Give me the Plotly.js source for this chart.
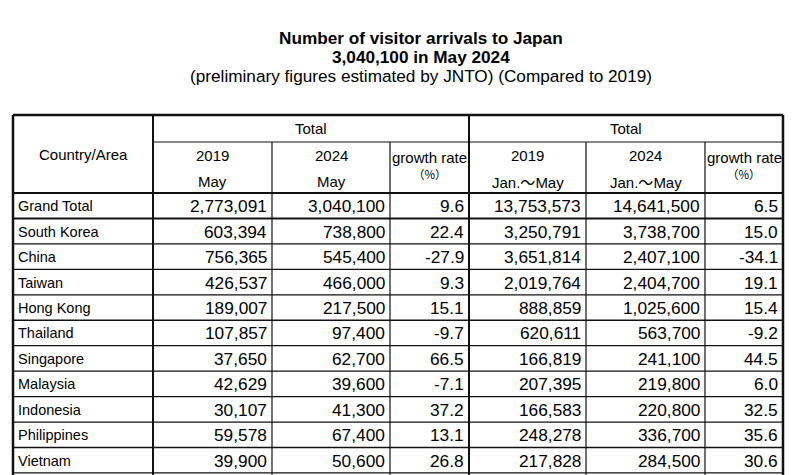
<!DOCTYPE html>
<html>
<head>
<meta charset="utf-8">
<script src="https://cdn.plot.ly/plotly-3.0.1.min.js"></script>
<style>
  body { margin: 0; background: #fff; }
  #chart { width: 800px; height: 475px; }
</style>
</head>
<body>
<div id="chart"></div>
<script>
// ---- data ----
const countries = ["Grand Total", "South Korea", "China", "Taiwan", "Hong Kong", "Thailand",
                   "Singapore", "Malaysia", "Indonesia", "Philippines", "Vietnam"];
const may2019 = [2773091, 603394, 756365, 426537, 189007, 107857, 37650, 42629, 30107, 59578, 39900];
const may2024 = [3040100, 738800, 545400, 466000, 217500, 97400, 62700, 39600, 41300, 67400, 50600];
const mayGrowth = [9.6, 22.4, -27.9, 9.3, 15.1, -9.7, 66.5, -7.1, 37.2, 13.1, 26.8];
const ytd2019 = [13753573, 3250791, 3651814, 2019764, 888859, 620611, 166819, 207395, 166583, 248278, 217828];
const ytd2024 = [14641500, 3738700, 2407100, 2404700, 1025600, 563700, 241100, 219800, 220800, 336700, 284500];
const ytdGrowth = [6.5, 15.0, -34.1, 19.1, 15.4, -9.2, 44.5, 6.0, 32.5, 35.6, 30.6];

const titleLines = ["<b>Number of visitor arrivals to Japan</b>",
                    "<b>3,040,100 in May 2024</b>",
                    "(preliminary figures estimated by JNTO) (Compared to 2019)"];
const groupLabel = "Total";
const yearLabels = ["2019", "2024"];
const mayLabel = "May";
const cjk = "Noto Sans CJK JP";
const ytdLabel = "Jan.<span style=\"font-family:" + cjk + "\">\uFF5E</span>May";
const pctLabel = "\uFF08%\uFF09";

// ---- table geometry (pixel-like axis units) ----
const colX = [13, 153, 272, 390, 469, 586, 705, 783];
const tableTop = 115;
const groupLine = 142;
const headTop = 193;
const rowH = 25.45;

const font = "Liberation Sans, Arial, sans-serif";
const shapes = [];
const ann = [];

function line(x0, y0, x1, y1, w) {
  shapes.push({type: "line", xref: "x", yref: "y", x0: x0, y0: y0, x1: x1, y1: y1,
               line: {color: "#111", width: w}});
}
function txt(x, y, s, size, anchor, fam) {
  ann.push({xref: "x", yref: "y", x: x, y: y, text: s, showarrow: false,
            xanchor: anchor || "center", yanchor: "middle",
            font: {family: fam || font, size: size, color: "#000"}});
}

// title, one annotation per line
titleLines.forEach((s, i) => txt(421, 38 + i * 19, s, 17.2));

const bottom = 475;
// vertical lines
line(colX[0], tableTop, colX[0], bottom, 2.5);
line(colX[1], tableTop, colX[1], bottom, 2);
line(colX[4], tableTop, colX[4], bottom, 2);
line(colX[7], tableTop, colX[7], bottom, 2.5);
[2, 3, 5, 6].forEach(i => line(colX[i], groupLine, colX[i], bottom, 1.2));

// horizontal lines
line(colX[0], tableTop, colX[7], tableTop, 2.5);
line(colX[1], groupLine, colX[7], groupLine, 1.2);
line(colX[0], headTop, colX[7], headTop, 2);
for (let i = 1; i <= countries.length; i++) {
  const y = headTop + i * rowH;
  line(colX[0], y, colX[7], y, i === 1 ? 2 : 1.3);
}

// header text
txt((colX[0] + colX[1]) / 2, 154, "Country/Area", 15);
txt((colX[1] + colX[4]) / 2, 128, groupLabel, 15);
txt((colX[4] + colX[7]) / 2, 128, groupLabel, 15);
[[1, mayLabel], [4, ytdLabel]].forEach(([c, sub]) => {
  yearLabels.forEach((yr, k) => {
    const cx = (colX[c + k] + colX[c + k + 1]) / 2;
    txt(cx, 155, yr, 15);
    txt(cx, 181, sub, 15);
  });
  const gx = (colX[c + 2] + colX[c + 3]) / 2;
  txt(gx, 157, "growth rate", 15);
  txt(gx, 174, pctLabel, 11.5, "center", cjk);
});

// body
const fmt = v => v.toLocaleString("en-US");
const cols = [may2019.map(fmt), may2024.map(fmt), mayGrowth.map(v => v.toFixed(1)),
              ytd2019.map(fmt), ytd2024.map(fmt), ytdGrowth.map(v => v.toFixed(1))];
countries.forEach((name, i) => {
  const cy = headTop + i * rowH + rowH / 2 + 0.5;
  txt(colX[0] + 3, cy, name, 14.5, "left");
  cols.forEach((col, j) => txt(colX[j + 2] - 3, cy, col[i], 17.3, "right"));
});

const layout = {
  width: 800,
  height: 475,
  margin: {l: 0, r: 0, t: 0, b: 0},
  paper_bgcolor: "#fff",
  plot_bgcolor: "#fff",
  showlegend: false,
  xaxis: {range: [0, 800], visible: false, fixedrange: true},
  yaxis: {range: [475, 0], visible: false, fixedrange: true},
  shapes: shapes,
  annotations: ann
};

Plotly.newPlot("chart", [{x: [], y: [], type: "scatter"}], layout, {staticPlot: true});
</script>
</body>
</html>
